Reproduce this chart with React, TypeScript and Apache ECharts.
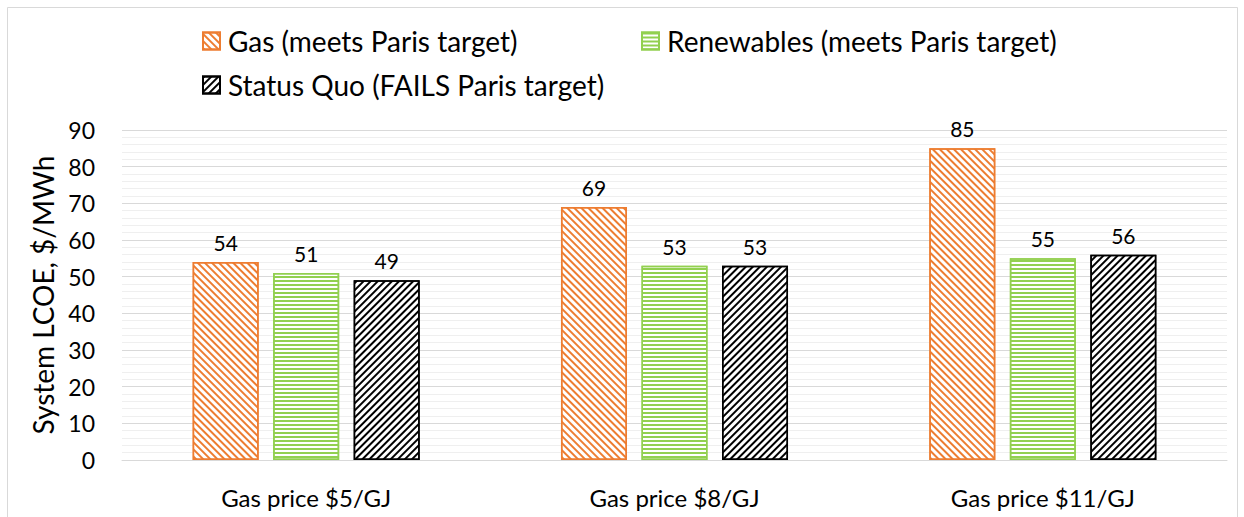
import React, { useEffect, useRef } from "react";
import * as echarts from "echarts";

const categories = ["Gas price $5/GJ", "Gas price $8/GJ", "Gas price $11/GJ"];
const seriesNames = [
  "Gas (meets Paris target)",
  "Renewables (meets Paris target)",
  "Status Quo (FAILS Paris target)",
];
const gasValues = [54, 69, 85];
const renewablesValues = [51, 53, 55];
const statusQuoValues = [49, 53, 56];
const yTicks = { min: 0, max: 90, interval: 10 };

const FONT = "Lato, 'Noto Sans', sans-serif";
const ORANGE = "#ed7d31";
const GREEN = "#92d050";
const BLACK = "#000000";

export default function App() {
  const ref = useRef<HTMLDivElement>(null);
  useEffect(() => {
    if (!ref.current) return;
    const chart = echarts.init(ref.current, undefined, { renderer: "svg" });
    const label = {
      show: true,
      position: "top",
      distance: 9,
      fontFamily: FONT,
      fontSize: 21,
      color: "#000",
    };
    const mkSeries = (name: string, data: number[], color: string, decal: any) => ({
      name,
      type: "bar",
      data,
      barWidth: 66,
      barGap: "22%",
      label,
      itemStyle: {
        color: "#ffffff",
        borderColor: color,
        borderWidth: 1.5,
        decal,
      },
    });
    const legendBase = {
      orient: "horizontal",
      itemWidth: 17,
      itemHeight: 17,
      icon: "rect",
      textStyle: { fontFamily: FONT, fontSize: 28, color: "#000", padding: [0, 0, 0, 3] },
    };
    chart.setOption({
      animation: false,
      backgroundColor: "#ffffff",
      graphic: [
        {
          type: "rect",
          shape: { x: 7.5, y: 7.5, width: 1230, height: 530 },
          style: { fill: "none", stroke: "#d9d9d9", lineWidth: 1 },
          silent: true,
        },
      ],
      legend: [
        { ...legendBase, data: [seriesNames[0]], left: 197, top: 22 },
        { ...legendBase, data: [seriesNames[1]], left: 636, top: 22 },
        { ...legendBase, data: [seriesNames[2]], left: 197, top: 66 },
      ],
      grid: { left: 122, right: 17, top: 130, bottom: 57, containLabel: false },
      xAxis: {
        type: "category",
        data: categories,
        axisTick: { show: false },
        axisLine: { show: true, lineStyle: { color: "#d9d9d9", width: 1 } },
        axisLabel: { fontFamily: FONT, fontSize: 24, color: "#000", margin: 25 },
      },
      yAxis: {
        type: "value",
        min: yTicks.min,
        max: yTicks.max,
        interval: yTicks.interval,
        name: "System LCOE, $/MWh",
        nameLocation: "middle",
        nameRotate: 90,
        nameGap: 63,
        nameTextStyle: { fontFamily: FONT, fontSize: 28, color: "#000" },
        axisLine: { show: false },
        axisTick: { show: false },
        axisLabel: { fontFamily: FONT, fontSize: 23, color: "#000", margin: 27 },
        splitLine: { show: true, lineStyle: { color: "#d9d9d9", width: 1 } },
        minorTick: { show: false, splitNumber: 5 },
        minorSplitLine: { show: true, lineStyle: { color: "#efefef", width: 1 } },
      },
      series: [
        mkSeries(seriesNames[0], gasValues, ORANGE, {
          symbol: "rect",
          symbolSize: 1,
          color: ORANGE,
          backgroundColor: "#ffffff",
          dashArrayX: [1, 0],
          dashArrayY: [2, 3],
          rotation: Math.PI / 4,
        }),
        mkSeries(seriesNames[1], renewablesValues, GREEN, {
          symbol: "rect",
          symbolSize: 1,
          color: GREEN,
          backgroundColor: "#ffffff",
          dashArrayX: [1, 0],
          dashArrayY: [2, 2],
          rotation: 0,
        }),
        mkSeries(seriesNames[2], statusQuoValues, BLACK, {
          symbol: "rect",
          symbolSize: 1,
          color: BLACK,
          backgroundColor: "#ffffff",
          dashArrayX: [1, 0],
          dashArrayY: [2, 3],
          rotation: -Math.PI / 4,
        }),
      ],
    });
    return () => chart.dispose();
  }, []);
  return (
    <div
      ref={ref}
      style={{ position: "fixed", left: 0, top: 0, width: 1244, height: 517, background: "#fff" }}
    />
  );
}
